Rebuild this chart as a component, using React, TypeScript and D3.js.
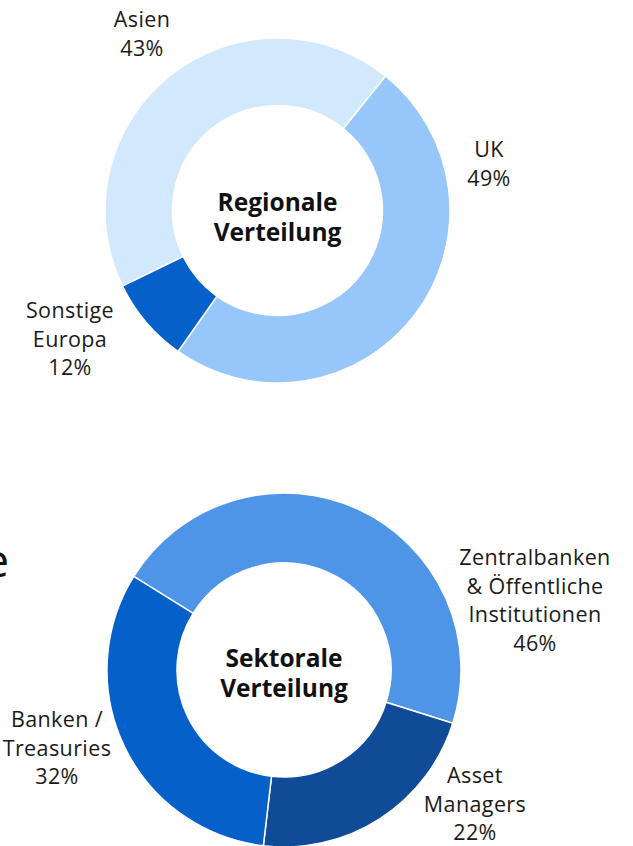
import React from "react";
import * as d3 from "d3";

// Regional distribution (drawn slice shares) and printed labels
const regionNames = ["Asien", "UK", "Sonstige Europa"];
const regionValues = [43, 49, 8];
const regionLabels = [["Asien", "43%"], ["UK", "49%"], ["Sonstige", "Europa", "12%"]];
const regionColors = ["#d2e8fd", "#97c6fb", "#0560c9"];

// Sector distribution
const sectorNames = ["Zentralbanken & Öffentliche Institutionen", "Asset Managers", "Banken / Treasuries"];
const sectorValues = [46, 22, 32];
const sectorLabels = [
  ["Zentralbanken", "& Öffentliche", "Institutionen", "46%"],
  ["Asset", "Managers", "22%"],
  ["Banken /", "Treasuries", "32%"],
];
const sectorColors = ["#4f95e7", "#0f4b96", "#0560c9"];

const W = 633;
const H = 846;
const FONT = "'Open Sans', sans-serif";

type Donut = {
  cx: number;
  cy: number;
  R: number;
  r: number;
  start: number; // degrees
  values: number[];
  names: string[];
  colors: string[];
  labels: string[][];
  labelPos: { x: number; y: number }[];
  title: string[];
  titleY: number;
};

function DonutChart({ d }: { d: Donut }) {
  const pie = d3
    .pie<number>()
    .sort(null)
    .value((v) => v)
    .startAngle((d.start * Math.PI) / 180)
    .endAngle((d.start * Math.PI) / 180 + 2 * Math.PI);
  const arcs = pie(d.values);
  const arc = d3.arc<d3.PieArcDatum<number>>().innerRadius(d.r).outerRadius(d.R);
  return (
    <g>
      <g transform={`translate(${d.cx},${d.cy})`}>
        {arcs.map((a, i) => (
          <path key={d.names[i]} d={arc(a) || ""} fill={d.colors[i]} stroke="#ffffff" strokeWidth={1.5} />
        ))}
        <text textAnchor="middle" fontFamily={FONT} fontWeight={700} fontSize={24.5} fill="#111">
          {d.title.map((t, i) => (
            <tspan key={t} x={0} y={d.titleY + i * 30}>
              {t}
            </tspan>
          ))}
        </text>
      </g>
      {d.labels.map((lines, i) => (
        <text key={d.names[i]} textAnchor="middle" fontFamily={FONT} fontSize={21.5} fill="#1a1a1a" letterSpacing={0.4}>
          {lines.map((l, j) => (
            <tspan key={j} x={d.labelPos[i].x} y={d.labelPos[i].y + j * 28.5}>
              {l}
            </tspan>
          ))}
        </text>
      ))}
    </g>
  );
}

export default function App() {
  const top: Donut = {
    cx: 277.5,
    cy: 210.5,
    R: 172.5,
    r: 105,
    start: -116,
    values: regionValues,
    names: regionNames,
    colors: regionColors,
    labels: regionLabels,
    labelPos: [
      { x: 142, y: 27 },
      { x: 489, y: 157 },
      { x: 70, y: 318 },
    ],
    title: ["Regionale", "Verteilung"],
    titleY: 0.5,
  };
  const bottom: Donut = {
    cx: 284,
    cy: 670,
    R: 177,
    r: 107,
    start: -58.1,
    values: sectorValues,
    names: sectorNames,
    colors: sectorColors,
    labels: sectorLabels,
    labelPos: [
      { x: 535, y: 565 },
      { x: 475, y: 783 },
      { x: 57, y: 727 },
    ],
    title: ["Sektorale", "Verteilung"],
    titleY: -3,
  };
  return (
    <svg
      width={W}
      height={H}
      viewBox={`0 0 ${W} ${H}`}
      style={{ position: "absolute", left: 0, top: 0, display: "block", background: "#fff" }}
    >
      <rect x={0} y={0} width={W} height={H} fill="#fff" />
      <DonutChart d={top} />
      <DonutChart d={bottom} />
      <text x={9} y={577} textAnchor="end" fontFamily={FONT} fontSize={46} fill="#111">
        e
      </text>
    </svg>
  );
}
